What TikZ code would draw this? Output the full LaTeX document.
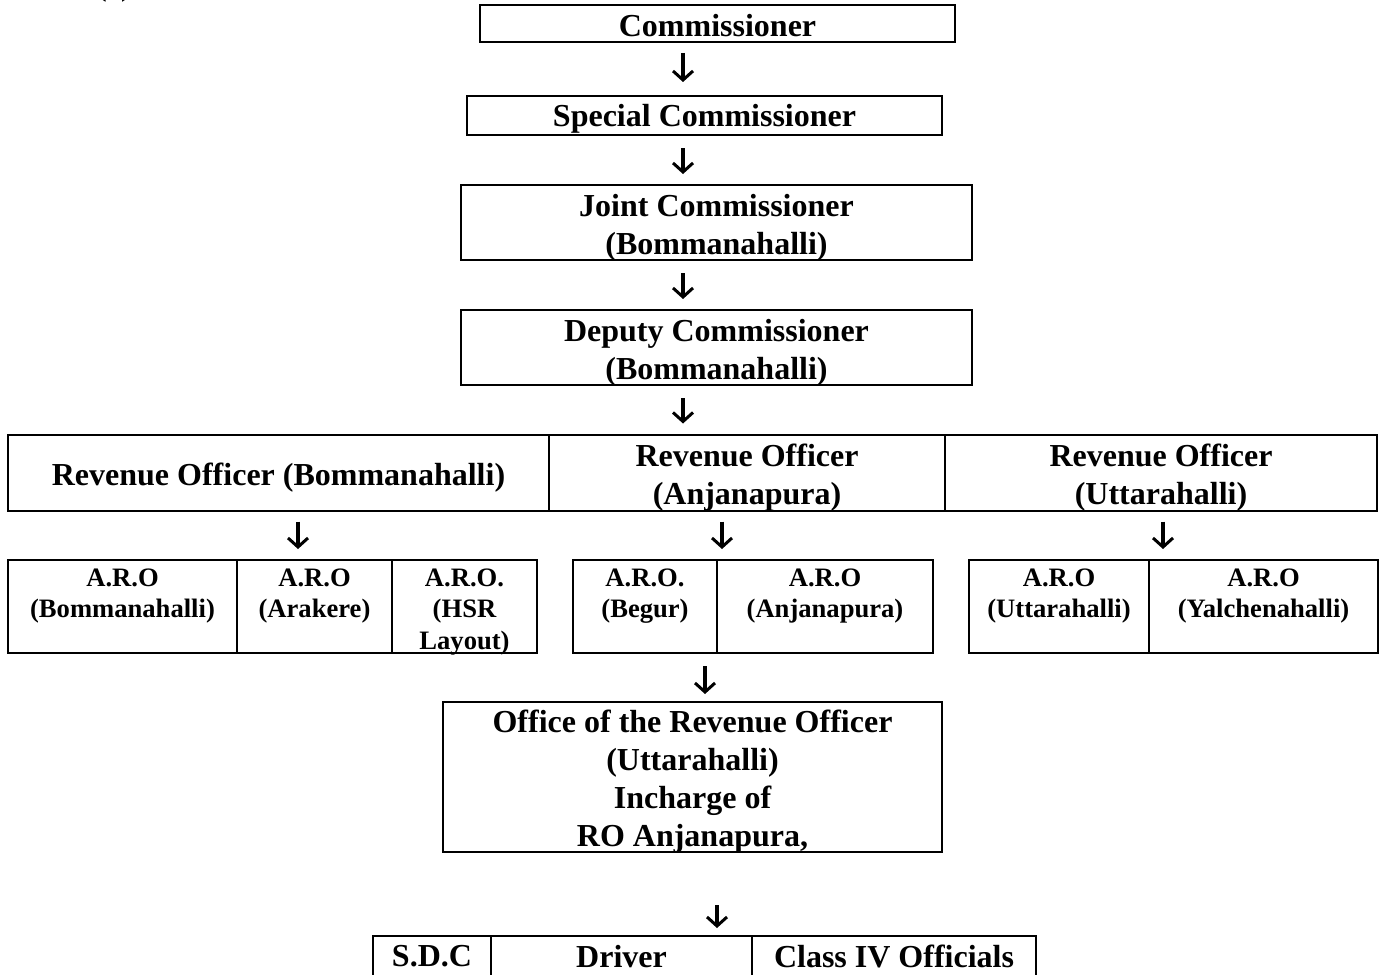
\documentclass[tikz,border=0pt]{standalone}
\usepackage{fontspec}
\setmainfont{Liberation Serif}
\usetikzlibrary{arrows.meta}

\tikzset{
  box/.style={draw, line width=1pt, inner sep=0pt},
  boxtext/.style={anchor=center, inner sep=0pt, yshift=-2.5pt, align=center,
    font=\bfseries\fontsize{16}{19}\selectfont},
  celltext/.style={anchor=north, inner sep=0pt, yshift=-4.5pt, align=center,
    font=\bfseries\fontsize{13.3}{15.8}\selectfont},
  basetext/.style={anchor=north, inner sep=0pt, yshift=-5pt, align=center,
    font=\bfseries\fontsize{16}{19}\selectfont},
  down/.style={-{Straight Barb[length=4.5pt,width=10pt,line width=1.5pt]},
    line width=2pt}
}

\begin{document}
\begin{tikzpicture}[x=0.5pt, y=-0.5pt]
  % page frame
  \useasboundingbox (0,0) rectangle (1380,974);
  \clip (0,0) rectangle (1380,974);

  % leftover text at the top edge
  \node[font=\bfseries\fontsize{16}{19}\selectfont, anchor=base, inner sep=0pt] (tag) at (114,-4) {(c)};

  % top of the chain
  \node[box, minimum width=237.5pt, minimum height=18.5pt,
    label={[boxtext, yshift=1.5pt]center:Commissioner}] (comm) at (717.5,23.5) {};
  \node[box, minimum width=237.5pt, minimum height=19.5pt,
    label={[boxtext, yshift=1pt]center:Special Commissioner}] (spec) at (704.5,115.5) {};
  \node[box, minimum width=255.5pt, minimum height=37.5pt,
    label={[boxtext]center:Joint Commissioner\\(Bommanahalli)}] (joint) at (716.5,222.5) {};
  \node[box, minimum width=255.5pt, minimum height=37.5pt,
    label={[boxtext]center:Deputy Commissioner\\(Bommanahalli)}] (dep) at (716.5,347.5) {};

  % revenue officers
  \node[box, minimum width=270.5pt, minimum height=38pt,
    label={[boxtext]center:Revenue Officer (Bommanahalli)}] (rbom) at (278.5,472.5) {};
  \node[box, minimum width=198pt, minimum height=38pt,
    label={[boxtext]center:Revenue Officer\\(Anjanapura)}] (ranj) at (747,472.5) {};
  \node[box, minimum width=216pt, minimum height=38pt,
    label={[boxtext]center:Revenue Officer\\(Uttarahalli)}] (rutt) at (1161,472.5) {};

  % A.R.O offices
  \node[box, minimum width=114.5pt, minimum height=46.5pt,
    label={[celltext]north:A.R.O\\(Bommanahalli)}] (abom) at (122.5,606.5) {};
  \node[box, minimum width=77.5pt, minimum height=46.5pt,
    label={[celltext]north:A.R.O\\(Arakere)}] (aara) at (314.5,606.5) {};
  \node[box, minimum width=72.5pt, minimum height=46.5pt,
    label={[celltext]north:A.R.O.\\(HSR\\Layout)}] (ahsr) at (464.5,606.5) {};
  \node[box, minimum width=72pt, minimum height=46.5pt,
    label={[celltext]north:A.R.O.\\(Begur)}] (abeg) at (645,606.5) {};
  \node[box, minimum width=108pt, minimum height=46.5pt,
    label={[celltext]north:A.R.O\\(Anjanapura)}] (aanj) at (825,606.5) {};
  \node[box, minimum width=90pt, minimum height=46.5pt,
    label={[celltext]north:A.R.O\\(Uttarahalli)}] (autt) at (1059,606.5) {};
  \node[box, minimum width=114.5pt, minimum height=46.5pt,
    label={[celltext]north:A.R.O\\(Yalchenahalli)}] (ayal) at (1263.5,606.5) {};

  % office in charge
  \node[box, minimum width=249.5pt, minimum height=75pt,
    label={[boxtext]center:Office of the Revenue Officer\\(Uttarahalli)\\Incharge of\\RO Anjanapura,}] (office) at (692.5,777) {};

  % staff row, cut by the page edge
  \node[box, minimum width=59pt, minimum height=30pt,
    label={[basetext]north:S.D.C}] (sdc) at (432,966) {};
  \node[box, minimum width=130.5pt, minimum height=30pt,
    label={[basetext]north:Driver}] (drv) at (621.5,966) {};
  \node[box, minimum width=142pt, minimum height=30pt,
    label={[basetext]north:Class IV Officials}] (cls) at (894,966) {};

  % arrow columns
  \coordinate (x1) at (683,0);
  \coordinate (x2) at (298,0);
  \coordinate (x3) at (722,0);
  \coordinate (x4) at (1163,0);
  \coordinate (x5) at (705,0);
  \coordinate (x6) at (717,0);

  % arrows
  \draw[down, shorten <=5pt, shorten >=6.5pt] (comm.south -| x1) -- (spec.north -| x1);
  \draw[down, shorten <=6pt, shorten >=5pt] (spec.south -| x1) -- (joint.north -| x1);
  \draw[down, shorten <=6pt, shorten >=5pt] (joint.south -| x1) -- (dep.north -| x1);
  \draw[down, shorten <=6pt, shorten >=5pt] (dep.south -| x1) -- (ranj.north -| x1);
  \draw[down, shorten <=5pt, shorten >=5pt] (rbom.south -| x2) -- (aara.north -| x2);
  \draw[down, shorten <=5pt, shorten >=5pt] (ranj.south -| x3) -- (aanj.north -| x3);
  \draw[down, shorten <=5pt, shorten >=5pt] (rutt.south -| x4) -- (ayal.north -| x4);
  \draw[down, shorten <=6pt, shorten >=3.5pt] (abeg.south -| x5) -- (office.north -| x5);
  \draw[down, shorten <=26pt, shorten >=3.5pt] (office.south -| x6) -- (drv.north -| x6);
\end{tikzpicture}
\end{document}
